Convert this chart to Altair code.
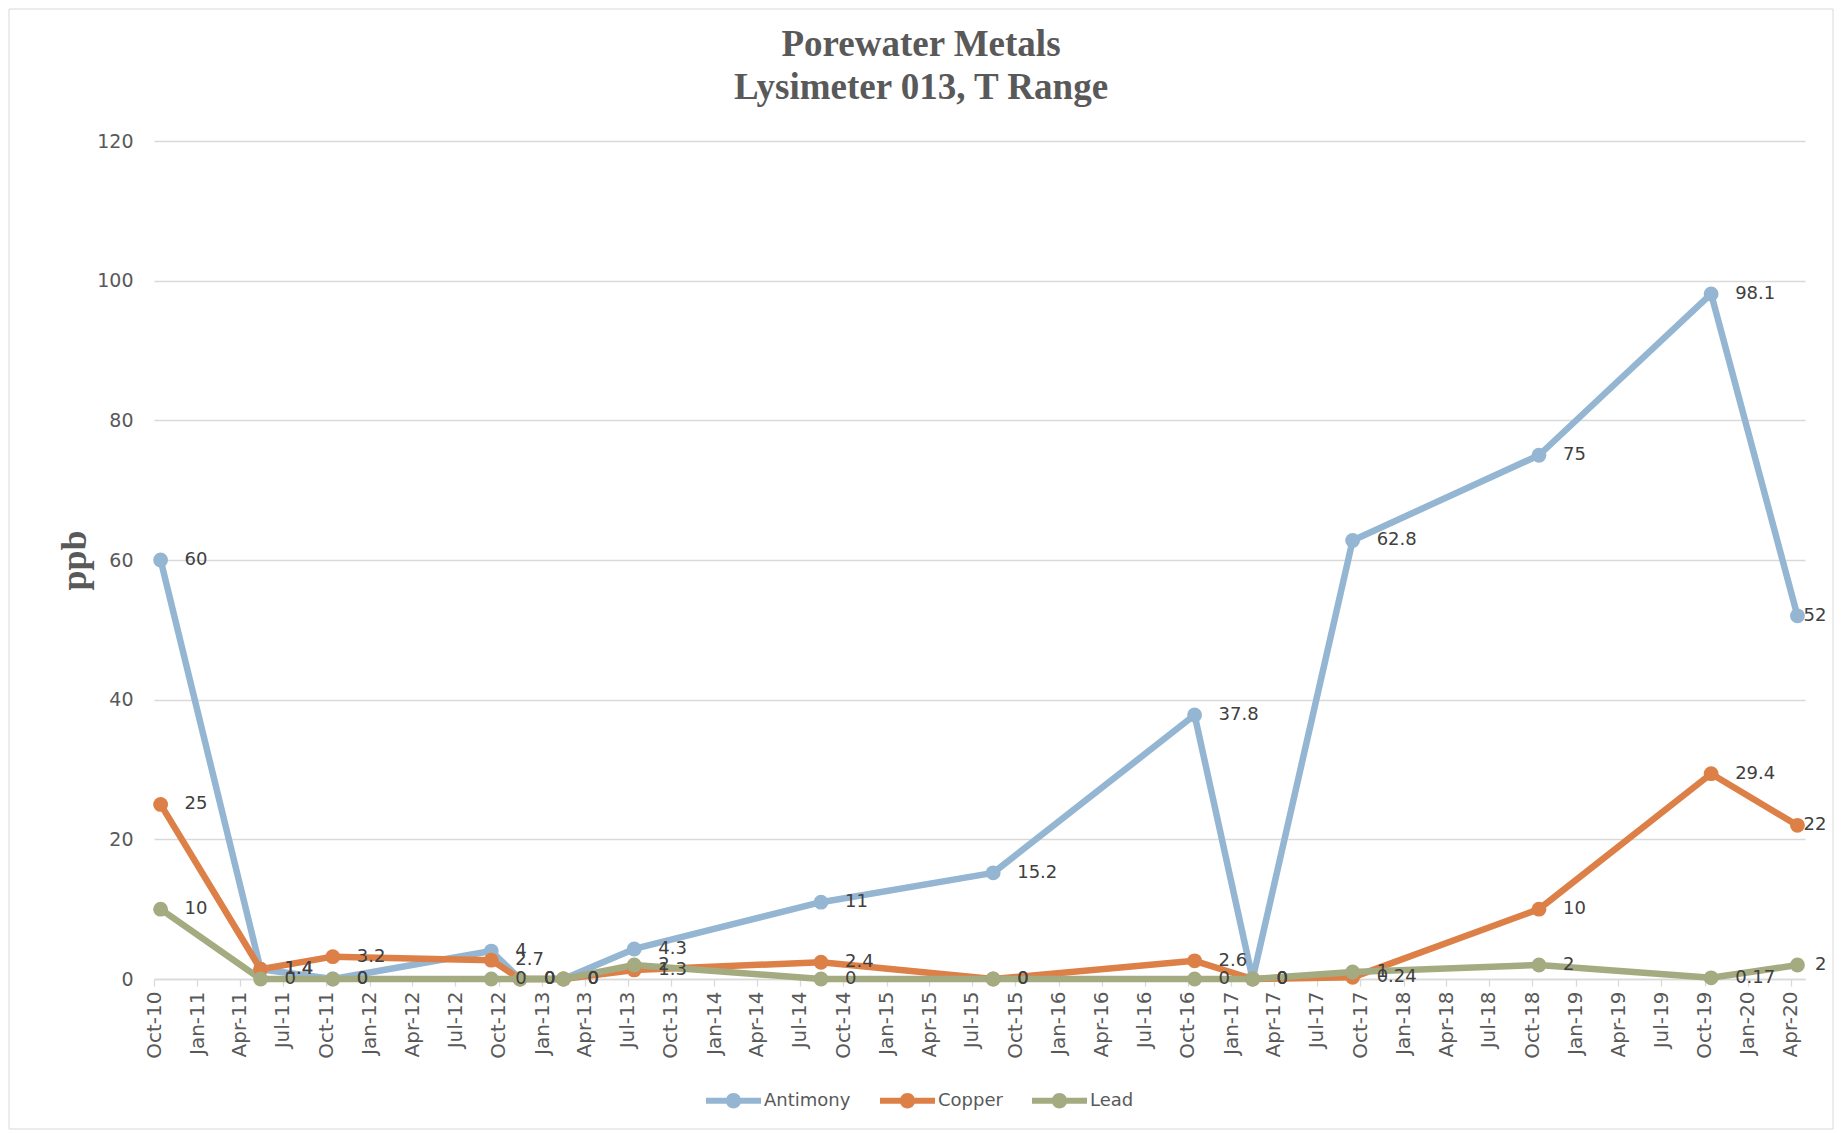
import altair as alt
import pandas as pd

# ---- data ----
dates = ["2010-10-15", "2011-05-15", "2011-10-15", "2012-09-15", "2012-11-15",
         "2013-02-15", "2013-07-15", "2014-08-15", "2015-08-15", "2016-10-15",
         "2017-02-15", "2017-09-15", "2018-10-15", "2019-10-15", "2020-04-15"]
antimony = [60, 1.4, 0, 4, 0, 0, 4.3, 11, 15.2, 37.8, 0, 62.8, 75, 98.1, 52]
copper = [25, 1.4, 3.2, 2.7, 0, 0, 1.3, 2.4, 0, 2.6, 0, 0.24, 10, 29.4, 22]
lead = [10, 0, 0, 0, 0, 0, 2, 0, 0, 0, 0, 1, 2, 0.17, 2]

series_names = ["Antimony", "Copper", "Lead"]
series_colors = ["#94B6D2", "#DD8047", "#A5AB81"]
y_ticks = [0, 20, 40, 60, 80, 100, 120]
x_start, x_end = "2010-10-01", "2020-05-01"
x_tick_dates = list(pd.date_range("2010-10-01", "2020-04-01", freq="3MS"))

rows = []
for name, vals in zip(series_names, [antimony, copper, lead]):
    for d, v in zip(dates, vals):
        rows.append({"date": d, "series": name, "line_series": name,
                     "value": v, "is_last": d == dates[-1]})
df = pd.DataFrame(rows)

def ms(ts):
    return int(pd.Timestamp(ts).value // 10**6)

tick_ms = [ms(t) for t in x_tick_dates]

FONT = "DejaVu Sans"
GRAY = "#595959"
LINE_GRAY = "#d9d9d9"

x_enc = alt.X(
    "date:T",
    scale=alt.Scale(type="utc", domain=[ms(x_start), ms(x_end)]),
    axis=alt.Axis(
        values=tick_ms,
        labelExpr="utcFormat(datum.value, '%b-%y')",
        labelAngle=270,
        labelAlign="right",
        labelBaseline="middle",
        labelOverlap=False,
        labelPadding=5,
        labelFontSize=20,
        tickSize=7,
        tickWidth=1.3,
        domainWidth=1.3,
        grid=False,
        title=None,
    ),
)
y_enc = alt.Y(
    "value:Q",
    scale=alt.Scale(domain=[0, 120], nice=False),
    axis=alt.Axis(
        values=y_ticks,
        grid=True,
        gridWidth=1.3,
        domain=False,
        ticks=False,
        labelPadding=21,
        labelFontSize=19,
        title="ppb",
        titleFont="Liberation Serif",
        titleFontSize=36,
        titleFontWeight="bold",
        titleColor=GRAY,
        titleAngle=270,
        titleX=-80,
        titleY=419,
        titleAlign="center",
        titleBaseline="middle",
    ),
)

base = alt.Chart(df)

# stroke scale keeps a data-derived domain so its (hidden) legend is not merged
# with the colour legend of the markers
lines = base.mark_line(strokeWidth=6.5, strokeJoin="round", strokeCap="round").encode(
    x=x_enc,
    y=y_enc,
    stroke=alt.Stroke("line_series:N", scale=alt.Scale(range=series_colors), legend=None),
)

LEGEND_PATH = ("M-1 -0.11 L1 -0.11 L1 0.11 L-1 0.11 Z "
               "M0.28 0 A0.28 0.28 0 1 1 -0.28 0 A0.28 0.28 0 1 1 0.28 0 Z")

points = base.mark_circle(size=220, opacity=1).encode(
    x=x_enc,
    y=y_enc,
    color=alt.Color(
        "series:N",
        scale=alt.Scale(domain=series_names, range=series_colors),
        legend=alt.Legend(
            title=None,
            orient="none",
            legendX=552,
            legendY=932,
            direction="horizontal",
            symbolType=LEGEND_PATH,
            symbolSize=3025,
            symbolStrokeWidth=0,
            labelFont=FONT,
            labelFontSize=18,
            labelColor=GRAY,
            labelOffset=3,
            columnPadding=29,
        ),
    ),
)

labels_main = base.transform_filter("!datum.is_last").mark_text(
    align="left", baseline="middle", dx=24, font=FONT, fontSize=18, color="#404040"
).encode(x=x_enc, y=y_enc, text=alt.Text("value:Q", format="~g"))

labels_last = base.transform_filter("datum.is_last").mark_text(
    align="right", baseline="middle", dx=29, font=FONT, fontSize=18, color="#404040"
).encode(x=x_enc, y=y_enc, text=alt.Text("value:Q", format="~g"))

border = alt.Chart(alt.Data(values=[{}])).mark_rect(
    fill="transparent", stroke=LINE_GRAY, strokeWidth=1
).encode(x=alt.value(-145), x2=alt.value(1679), y=alt.value(-132), y2=alt.value(988))

chart = alt.layer(border, lines, points, labels_main, labels_last).properties(
    width=1651,
    height=838,
    padding=0,
    title=alt.TitleParams(
        text=["Porewater Metals", "Lysimeter 013, T Range"],
        font="Liberation Serif",
        fontSize=37,
        fontWeight="bold",
        color=GRAY,
        lineHeight=43,
        anchor="middle",
        frame="bounds",
        offset=-98,
    ),
).configure_view(strokeWidth=0).configure_axis(
    labelFont=FONT,
    labelColor=GRAY,
    gridColor=LINE_GRAY,
    domainColor=LINE_GRAY,
    tickColor=LINE_GRAY,
)

chart.save("out.html", embed_options={"renderer": "svg", "actions": False})
